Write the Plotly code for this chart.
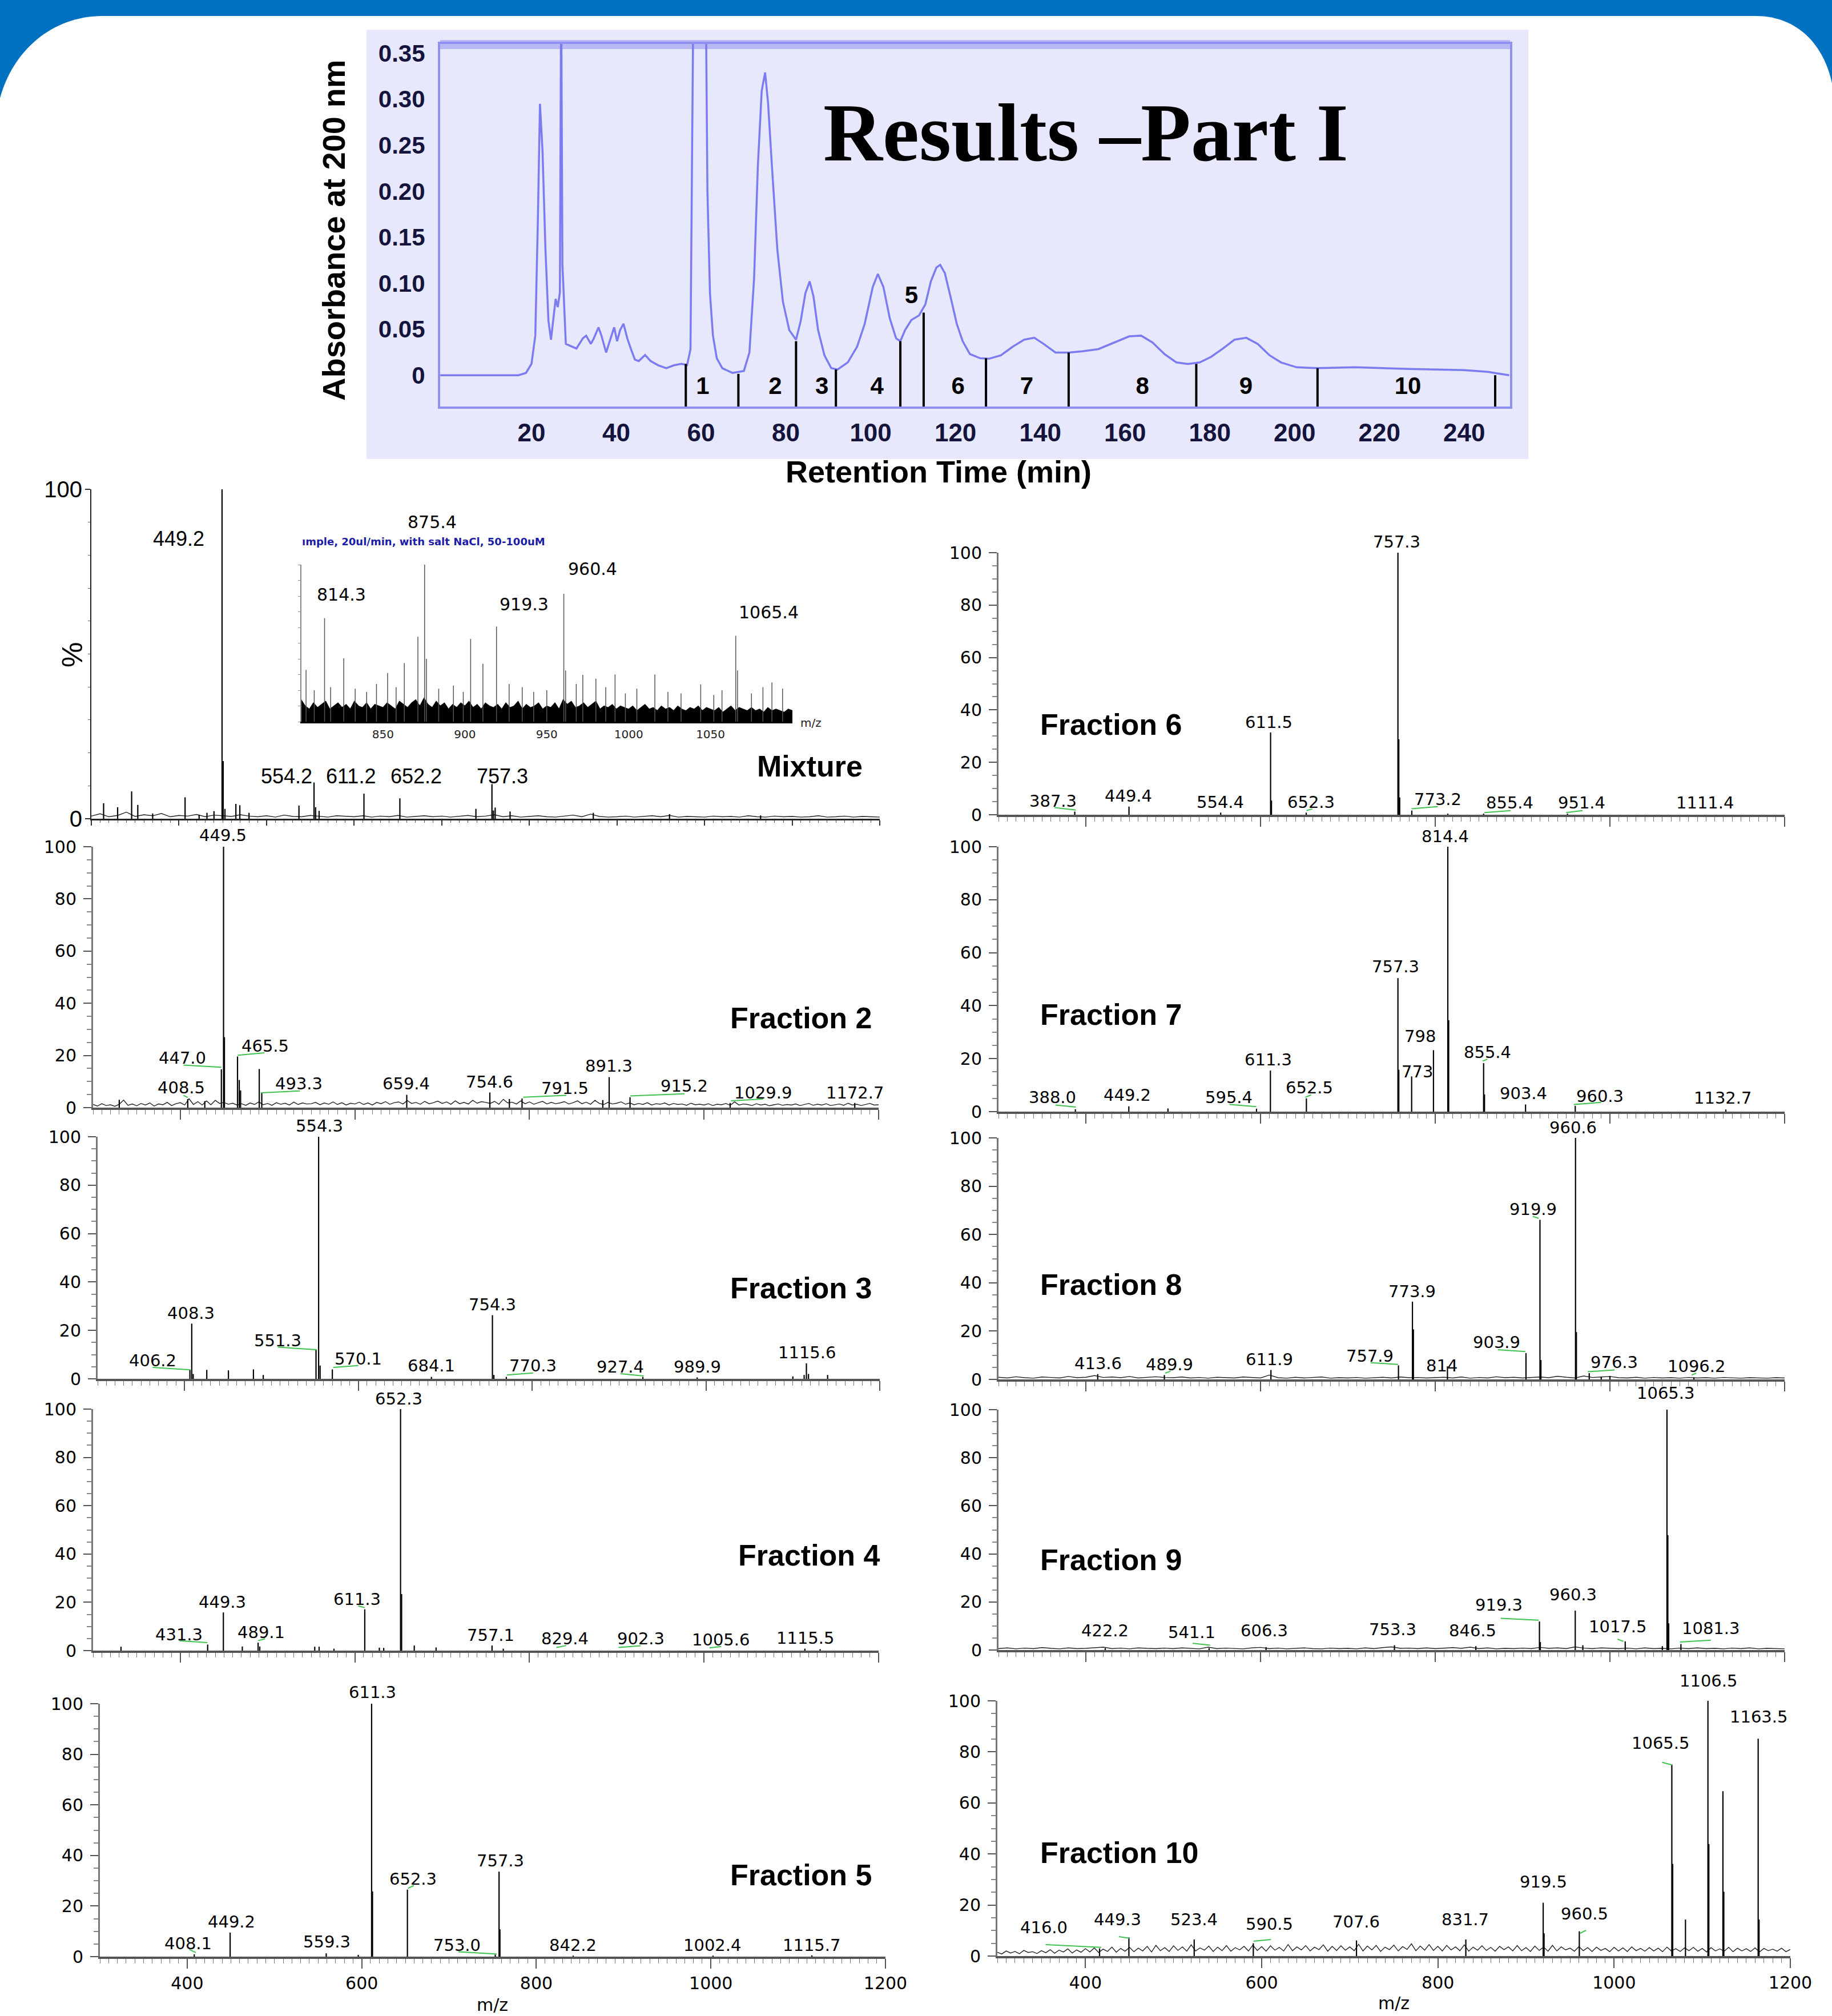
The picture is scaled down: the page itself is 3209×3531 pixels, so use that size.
import plotly.graph_objects as go

W, H = 3209, 3531

# ====================== DATA ======================
# --- HPLC chromatogram (retention time in min, absorbance at 200 nm) ---
chrom_time = [-1.5, 16.9, 18.7, 20.0, 20.9, 21.5, 22.0, 22.6, 23.3, 24.0, 24.6, 25.1, 25.7, 26.2, 26.7, 27.0,
              27.3, 28.1, 29.2, 30.6, 32.1, 32.9, 34.0, 34.7, 35.8, 36.5, 37.6, 38.5, 39.5, 40.2, 40.9, 41.7,
              42.6, 43.5, 44.4, 45.3, 46.8, 48.1, 49.9, 51.8, 53.6, 55.4, 56.7, 57.5, 57.8, 58.2, 61.1, 61.5,
              62.1, 62.8, 63.7, 65.0, 67.4, 70.1, 71.4, 72.5, 73.4, 74.3, 75.1, 75.8, 76.7, 78.0, 79.3, 80.8,
              82.4, 83.5, 84.6, 85.6, 86.5, 87.6, 89.1, 90.7, 92.2, 94.6, 96.8, 98.6, 100.5, 101.7, 103.0, 104.5,
              106.0, 107.0, 108.1, 109.6, 111.4, 112.9, 114.2, 115.5, 116.4, 117.5, 118.8, 120.3, 121.7, 123.4,
              125.8, 127.9, 130.7, 133.5, 136.2, 138.6, 140.8, 143.6, 146.7, 150.0, 153.7, 157.3, 161.0, 163.8,
              166.5, 169.3, 172.1, 174.8, 177.6, 180.3, 183.1, 185.8, 188.6, 191.3, 194.1, 196.8, 200.5, 205.5,
              214.3, 227.1, 240.0, 245.5, 248.3, 250.6]
chrom_abs = [0, 0, 0.0025, 0.0123, 0.043, 0.167, 0.295, 0.244, 0.136, 0.059, 0.0386, 0.059, 0.083, 0.074, 0.09, 0.42,
             0.12, 0.034, 0.032, 0.029, 0.040, 0.043, 0.034, 0.040, 0.052, 0.043, 0.0247, 0.037, 0.052, 0.037, 0.049, 0.056,
             0.040, 0.028, 0.017, 0.0154, 0.022, 0.0154, 0.0108, 0.0077, 0.0108, 0.0123, 0.011, 0.028, 0.2, 0.42, 0.42, 0.2,
             0.089, 0.043, 0.0185, 0.0077, 0.0025, 0.0046, 0.0247, 0.105, 0.228, 0.309, 0.329, 0.296, 0.228, 0.136, 0.080, 0.049,
             0.0386, 0.059, 0.089, 0.102, 0.086, 0.049, 0.0216, 0.0077, 0.0062, 0.0139, 0.031, 0.056, 0.096, 0.110, 0.096, 0.062,
             0.040, 0.037, 0.049, 0.060, 0.065, 0.077, 0.102, 0.117, 0.120, 0.111, 0.086, 0.056, 0.037, 0.023,
             0.0185, 0.0179, 0.0216, 0.031, 0.0386, 0.0407, 0.034, 0.0247, 0.0247, 0.026, 0.0284, 0.0355, 0.0423, 0.043,
             0.0355, 0.023, 0.0139, 0.0123, 0.0139, 0.020, 0.029, 0.0386, 0.0407, 0.034, 0.0216, 0.0139, 0.0086, 0.0077,
             0.0086, 0.0068, 0.0056, 0.0037, 0.0015, 0]
cut_time = [56.4, 68.8, 82.4, 91.8, 107.0, 112.5, 127.2, 146.7, 176.8, 205.4, 247.3]
cut_top = [0.0123, 0.0015, 0.037, 0.0062, 0.037, 0.068, 0.0185, 0.0247, 0.0123, 0.0077, 0.0]
frac_num_text = ['1', '2', '3', '4', '5', '6', '7', '8', '9', '10']
frac_num_time = [60.4, 77.5, 88.5, 101.5, 109.6, 120.6, 136.8, 164.1, 188.5, 226.7]
chrom_xtick_vals = [20, 40, 60, 80, 100, 120, 140, 160, 180, 200, 220, 240]
chrom_xtick_text = ['20', '40', '60', '80', '100', '120', '140', '160', '180', '200', '220', '240']
chrom_ytick_vals = [0, 0.05, 0.10, 0.15, 0.20, 0.25, 0.30, 0.35]
chrom_ytick_text = ['0', '0.05', '0.10', '0.15', '0.20', '0.25', '0.30', '0.35']

# --- Mixture spectrum ---
mix_mz = [314, 330, 346, 353, 370, 407, 423, 432, 440, 449.2, 450.5, 452.5, 465, 469.5, 480, 537, 554.2, 556, 560,
          611.2, 652.2, 739, 757.3, 759, 761, 778, 873, 960, 1064]
mix_h = [4.7, 3.5, 8.3, 4.2, 1.6, 6.5, 1.2, 1.8, 2.3, 100, 17.5, 3.0, 4.5, 4.1, 1.8, 4.0, 11.0, 3.5, 2.4,
         7.6, 6.2, 3.0, 10.5, 2.5, 3.4, 2.2, 1.8, 1.4, 1.0]
mix_noise = [0.8, 1.5, 0.6, 1.0, 2.0, 0.7, 1.2, 0.9, 1.6, 0.6,
             1.0, 0.8, 1.3, 0.6, 1.1, 0.9, 0.7, 1.2, 0.8, 0.6,
             0.9, 0.5, 1.1, 0.7, 0.6, 1.0, 0.8, 0.5, 0.9, 0.7,
             0.6, 0.9, 0.5, 0.8, 0.6, 1.0, 0.5, 0.7, 0.9, 0.6,
             0.8, 0.5, 0.7, 1.0, 0.6, 0.8, 1.2, 0.6, 0.9, 0.5,
             0.7, 0.9, 0.6, 0.5, 0.8, 1.1, 0.6, 1.4, 0.7, 0.5,
             0.6, 0.8, 0.5, 0.7, 0.9, 0.6, 1.0, 0.5, 0.7, 0.6,
             0.5, 0.8, 0.6, 0.7, 0.5, 0.9, 0.6, 0.5, 0.8, 0.6,
             0.7, 0.5, 0.6, 0.9, 0.5, 0.6, 0.8, 0.5, 0.7, 0.6, 0.5]
mix_labels = ['449.2', '554.2', '611.2', '652.2', '757.3']

# --- Mixture inset (800-1100) ---
inset_mz = [803, 808, 814.3, 818, 826, 833, 840, 846, 852.8, 858, 863, 871.3, 875.4, 876.5, 884, 893, 899, 903.5,
            911, 919.3, 927, 935, 942, 950, 960.4, 961.5, 968, 972, 980, 986, 991.7, 998, 1005, 1016, 1024, 1032,
            1044, 1052, 1057, 1065.4, 1066.5, 1075, 1082, 1087.5, 1094]
inset_h = [33, 20, 65.9, 22, 40.4, 21, 19, 24, 31, 22, 37.3, 54.1, 100, 40, 21, 23, 19, 52.7,
           36.9, 60.6, 24, 22, 19, 20, 81.5, 32.6, 24, 29.8, 27.4, 22, 30, 18, 21, 30, 19, 18,
           23.7, 17, 20, 54.7, 32.6, 18, 22, 25, 21]
inset_noise = [14, 10, 8, 12, 9, 11, 13, 8, 10, 12,
               9, 11, 8, 13, 10, 9, 12, 8, 11, 10,
               9, 12, 10, 8, 13, 11, 9, 12, 14, 10,
               15, 11, 9, 13, 10, 12, 8, 11, 9, 12,
               10, 13, 9, 11, 8, 12, 10, 9, 11, 8,
               12, 9, 10, 13, 8, 11, 9, 10, 12, 8,
               10, 9, 12, 8, 14, 11, 13, 9, 10, 12,
               9, 11, 13, 8, 10, 9, 11, 8, 10, 9,
               8, 10, 7, 9, 11, 8, 9, 7, 10, 8,
               9, 7, 10, 8, 7, 9, 8, 10, 7, 9,
               8, 7, 9, 6, 8, 10, 7, 9, 8, 7,
               9, 7, 8, 6, 9, 7, 8, 7, 6, 8, 7]
inset_labels = ['875.4', '814.3', '919.3', '960.4', '1065.4']
inset_xtick_vals = [850, 900, 950, 1000, 1050]
inset_xtick_text = ['850', '900', '950', '1000', '1050']
inset_caption = 'ımple, 20ul/min, with salt NaCl, 50-100uM'

# --- Fractions 2-10 ---
f2_mz = [330, 408.5, 428, 447.0, 449.5, 450.5, 465.5, 467.5, 469, 490.4, 493.3, 659.4, 754.6, 777, 791.5, 884, 891.3,
         915.2, 1029.9, 1172.7]
f2_h = [3.0, 3.3, 2.5, 14.7, 100, 27, 19.6, 10.6, 6.6, 14.8, 5.7, 4.9, 5.8, 3.3, 3.5, 2.9, 11.7, 4.0, 1.8, 1.8]
f2_labels = ['449.5', '447.0', '465.5', '408.5', '493.3', '659.4', '754.6', '791.5', '891.3', '915.2', '1029.9', '1172.7']
f2_noise = [1.2, 0.6, 1.5, 0.8, 1.1, 0.5, 1.3, 2.9, 0.9, 1.4,
            0.7, 1.6, 1.0, 1.8, 0.6, 1.4, 1.1, 2.0, 0.8, 1.5,
            1.9, 1.0, 3.4, 1.2, 2.3, 1.0, 2.6, 1.1, 2.8, 1.6,
            2.0, 1.3, 1.7, 1.0, 1.5, 0.9, 1.8, 1.2, 2.2, 1.1,
            1.6, 0.9, 1.9, 1.3, 1.7, 1.0, 2.1, 1.2, 1.8, 1.4,
            1.5, 2.0, 1.1, 1.8, 1.3, 2.2, 1.2, 1.9, 1.0, 1.7,
            1.4, 2.1, 1.2, 1.8, 1.0, 2.0, 1.5, 2.3, 1.3, 1.9,
            2.2, 1.4, 2.7, 1.6, 2.0, 1.3, 2.4, 1.5, 1.9, 2.5,
            1.6, 2.2, 1.3, 2.6, 1.5, 2.0, 1.4, 2.8, 1.7, 2.3,
            2.0, 1.6, 2.4, 1.3, 3.2, 1.8, 2.1, 1.4, 2.6, 1.5,
            2.2, 1.3, 1.9, 2.4, 1.4, 2.0, 1.5, 1.8, 2.3, 1.4,
            1.9, 2.6, 1.5, 2.1, 1.3, 2.8, 1.6, 1.2, 2.0, 1.4,
            1.7, 2.2, 1.3, 1.8, 1.1, 1.6, 1.2, 1.9, 1.0, 1.5,
            1.3, 1.8, 1.0, 1.6, 1.2, 1.4, 0.9, 1.7, 1.1, 1.3,
            1.0, 1.5, 0.8, 1.3, 1.1, 1.6, 0.9, 2.2, 1.0, 1.4,
            1.2, 0.8, 1.5, 1.0, 1.3, 0.7, 1.1, 1.4, 0.9, 1.2,
            1.0, 1.4, 0.8, 1.2, 1.6, 0.9, 1.3, 1.0, 1.5, 0.8,
            1.1, 1.4, 0.9, 1.7, 1.0, 1.3, 0.8, 1.2, 1.6, 1.0, 1.1]

f3_mz = [406.2, 408.3, 410, 425.6, 450.5, 479.3, 490.6, 551.3, 554.3, 556, 570.1, 684.1, 754.3, 756, 770.3, 927.4,
         989.9, 1100, 1113, 1115.6, 1118, 1140]
f3_h = [3.7, 22.8, 2.0, 3.7, 3.5, 3.9, 1.6, 12.0, 100, 5.5, 3.9, 0.8, 26.3, 1.6, 0.8, 0.8, 0.6, 1.0, 1.6, 6.4, 2.0, 1.6]
f3_labels = ['554.3', '408.3', '406.2', '551.3', '570.1', '684.1', '754.3', '770.3', '927.4', '989.9', '1115.6']

f4_mz = [332, 431.3, 449.3, 471, 489.1, 491, 554, 559, 576, 611.3, 628, 633, 652.3, 653.5, 668, 693, 757.1, 770,
         1115.5, 1133]
f4_h = [1.6, 2.5, 15.8, 1.7, 3.3, 1.7, 1.6, 1.6, 0.8, 17.1, 1.2, 1.1, 100, 23.4, 2.1, 1.3, 2.1, 0.8, 0.8, 0.6]
f4_labels = ['652.3', '449.3', '611.3', '431.3', '489.1', '757.1', '829.4', '902.3', '1005.6', '1115.5']

f5_mz = [408.1, 449.2, 559.3, 596, 611.3, 612.3, 652.3, 753.0, 757.3, 758.3, 842.2, 1002.4, 1115.7]
f5_h = [0.9, 9.5, 1.3, 0.7, 100, 25.8, 26.5, 0.8, 33.6, 10.8, 0.4, 0.4, 0.5]
f5_labels = ['611.3', '449.2', '408.1', '559.3', '652.3', '757.3', '753.0', '842.2', '1002.4', '1115.7']

f6_mz = [387.3, 449.4, 554.4, 611.5, 612.5, 652.3, 757.3, 758.3, 759.3, 773.2, 814.4, 855.4, 951.4]
f6_h = [1.2, 3.1, 0.8, 31.4, 5.4, 0.8, 100, 28.8, 6.6, 1.6, 0.4, 0.4, 0.4]
f6_labels = ['757.3', '611.5', '387.3', '449.4', '554.4', '652.3', '773.2', '855.4', '951.4', '1111.4']

f7_mz = [388.0, 449.2, 494, 595.4, 611.3, 652.5, 757.3, 758.3, 773, 798, 814.4, 815.4, 855.4, 856.4, 903.4, 960.3,
         1132.7]
f7_h = [0.9, 2.0, 1.2, 1.1, 15.5, 5.0, 50.4, 15.8, 13.3, 23.2, 100, 34.5, 18.3, 6.5, 2.7, 2.2, 0.8]
f7_labels = ['814.4', '757.3', '798', '773', '855.4', '611.3', '652.5', '388.0', '449.2', '595.4', '903.4', '960.3',
             '1132.7']

f8_mz = [413.6, 489.9, 611.9, 757.9, 773.9, 775, 814, 903.9, 919.9, 921, 960.6, 961.6, 976.3, 990, 1000, 1096.2]
f8_h = [2.2, 1.8, 3.9, 5.8, 32.2, 20.7, 5.4, 10.9, 66.1, 8.0, 100, 19.6, 2.6, 1.0, 1.4, 0.8]
f8_labels = ['960.6', '919.9', '773.9', '757.9', '814', '903.9', '976.3', '611.9', '413.6', '489.9', '1096.2']
f8_noise = [0.9, 0.6, 1.1, 0.7, 0.5, 1.0, 0.8, 0.6, 1.2, 0.7,
            0.9, 1.6, 0.8, 1.0, 0.7, 1.2, 0.6, 0.9, 1.1, 0.8,
            0.7, 1.0, 0.6, 0.8, 0.5, 0.9, 0.7, 0.6, 1.0, 0.8,
            0.6, 1.8, 0.7, 0.5, 0.9, 0.6, 0.8, 1.0, 0.5, 0.7,
            0.6, 0.8, 0.5, 0.7, 0.9, 0.6, 1.0, 0.7, 0.8, 0.6,
            0.7, 0.9, 0.6, 1.0, 0.5, 0.8, 0.6, 1.1, 0.7, 0.9,
            0.6, 0.8, 1.0, 0.7, 1.3, 0.9, 0.6, 1.4, 0.8, 1.0,
            1.2, 0.7, 0.6, 0.9, 0.5, 0.8, 0.6, 0.7, 0.5, 0.8,
            0.6, 0.7, 0.5, 0.8, 0.6, 0.5, 0.7, 0.6, 0.5, 0.7, 0.6]

f9_mz = [422.2, 541.1, 606.3, 753.3, 846.5, 919.3, 920.3, 960.3, 969, 1017.5, 1060, 1065.3, 1066.3, 1067.3, 1081.3]
f9_h = [0.8, 0.8, 1.2, 2.0, 1.6, 11.9, 3.3, 16.4, 2.0, 3.6, 1.6, 100, 47.8, 11.1, 2.5]
f9_labels = ['1065.3', '960.3', '919.3', '1017.5', '1081.3', '846.5', '753.3', '606.3', '541.1', '422.2']
f9_noise = [0.6, 0.9, 0.5, 0.8, 0.6, 1.0, 0.7, 0.5, 0.9, 0.6,
            0.7, 1.0, 1.2, 0.6, 0.8, 0.5, 0.9, 0.7, 0.6, 0.8,
            0.6, 0.9, 0.7, 0.5, 1.2, 0.6, 0.8, 0.7, 0.5, 0.9,
            1.1, 0.6, 0.8, 0.5, 0.7, 0.9, 0.6, 0.5, 0.8, 0.6,
            0.7, 0.5, 0.9, 0.6, 1.0, 1.3, 0.7, 0.8, 0.6, 0.9,
            0.6, 0.8, 1.0, 0.7, 1.2, 0.6, 0.9, 0.5, 0.7, 0.6,
            0.8, 0.6, 1.1, 0.7, 0.9, 0.6, 1.3, 0.8, 0.6, 0.9,
            0.7, 0.6, 0.8, 0.5, 0.9, 0.6, 0.7, 0.5, 0.8, 0.6,
            0.9, 0.6, 0.7, 0.5, 0.8, 0.6, 0.9, 0.5, 0.7, 0.6, 0.5]

f10_mz = [416.0, 449.3, 523.4, 590.5, 707.6, 831.7, 919.5, 920.5, 960.5, 1065.5, 1066.5, 1081, 1106.5, 1107.5, 1123.5,
          1124.5, 1163.5, 1164.5]
f10_h = [3.0, 7.3, 6.5, 5.0, 6.1, 6.5, 20.9, 8.9, 9.7, 75.1, 36.1, 14.3, 100, 43.9, 64.6, 25.2, 85.2, 14.3]
f10_labels = ['1106.5', '1163.5', '1065.5', '919.5', '960.5', '831.7', '707.6', '590.5', '523.4', '449.3', '416.0']
f10_noise = [1.5, 0.8, 2.0, 1.2, 1.8, 0.9, 2.2, 1.4, 1.7, 1.0,
             2.1, 1.3, 2.5, 1.1, 2.3, 1.6, 2.8, 1.2, 2.4, 1.5,
             2.9, 1.6, 3.2, 1.4, 2.7, 1.8, 3.5, 1.5, 3.0, 1.9,
             3.4, 1.7, 3.1, 2.0, 3.8, 1.6, 4.2, 2.1, 3.3, 1.8,
             4.0, 2.2, 3.6, 1.9, 4.4, 2.0, 3.2, 2.3, 3.9, 1.8,
             3.5, 2.1, 4.1, 1.9, 3.3, 2.4, 3.8, 2.0, 4.3, 2.2,
             3.7, 1.9, 4.0, 2.3, 3.4, 2.0, 4.5, 2.1, 3.6, 2.4,
             4.1, 2.0, 3.5, 2.5, 4.4, 1.9, 3.8, 2.2, 4.0, 2.3,
             3.6, 2.1, 4.6, 2.0, 3.9, 2.4, 4.2, 1.8, 3.5, 2.5,
             4.3, 2.0, 3.7, 2.6, 4.8, 2.1, 3.9, 2.3, 4.5, 2.2,
             3.8, 2.0, 4.2, 2.4, 3.6, 2.1, 4.4, 1.9, 3.5, 2.3,
             4.0, 2.2, 3.4, 1.9, 3.8, 2.5, 3.6, 2.0, 4.1, 2.1,
             3.3, 1.8, 3.9, 2.2, 3.5, 1.9, 4.2, 2.0, 3.6, 2.4,
             3.1, 1.9, 3.7, 2.1, 3.3, 1.8, 3.5, 2.2, 3.0, 1.7,
             3.4, 2.0, 3.2, 1.8, 3.6, 2.1, 3.0, 1.9, 3.3, 2.0,
             3.1, 1.7, 3.5, 2.0, 2.9, 1.8, 3.2, 2.1, 3.4, 1.9,
             3.0, 1.6, 3.3, 2.0, 2.8, 1.9, 3.4, 1.7, 3.1, 2.0,
             2.9, 1.8, 3.2, 1.6, 3.0, 2.1, 2.7, 1.9, 3.1, 1.7, 2.6]

fraction_names = ['Mixture', 'Fraction 2', 'Fraction 3', 'Fraction 4', 'Fraction 5', 'Fraction 6', 'Fraction 7',
                  'Fraction 8', 'Fraction 9', 'Fraction 10']
spec_ytick_text = ['0', '20', '40', '60', '80', '100']

# ====================== LAYOUT / STYLE ======================
SANS = "Liberation Sans, Arial, Helvetica, sans-serif"
DV = "DejaVu Sans, Verdana, sans-serif"
SERIF = "Liberation Serif, Times New Roman, serif"


def px(x):
    return x / W


def py(y):
    return 1 - y / H


def dom_x(l, r):
    return [px(l), px(r)]


def dom_y(top, bot):
    return [py(bot), py(top)]


fig = go.Figure()
layout = dict(template='none', width=W, height=H, margin=dict(l=0, r=0, t=0, b=0, pad=0), paper_bgcolor='white',
              plot_bgcolor='rgba(0,0,0,0)', showlegend=False, autosize=False)
shapes = []
annotations = []

# ---- background banner ----
shapes.append(dict(type='rect', xref='paper', yref='paper', x0=0, x1=1, y0=py(260), y1=1,
                   fillcolor='#0070C0', line=dict(width=0), layer='below'))
path = (f"M {px(0)},{py(172)} C {px(22)},{py(90)} {px(90)},{py(28)} {px(180)},{py(28)} "
        f"L {px(3075)},{py(28)} C {px(3150)},{py(28)} {px(3195)},{py(80)} {px(3209)},{py(146)} "
        f"L {px(3209)},{py(300)} L {px(0)},{py(300)} Z")
shapes.append(dict(type='path', xref='paper', yref='paper', path=path, fillcolor='white',
                   line=dict(width=0), layer='below'))
# chromatogram panel background
shapes.append(dict(type='rect', xref='paper', yref='paper', x0=px(642), x1=px(2677), y0=py(804), y1=py(52),
                   fillcolor='#e8e8fc', line=dict(width=0), layer='below'))
# thick top frame of chromatogram
shapes.append(dict(type='rect', xref='paper', yref='paper', x0=px(771), x1=px(2645), y0=py(86), y1=py(70),
                   fillcolor='#b9b9f6', line=dict(width=0), layer='below'))

# ---- chromatogram ----
CHR_L, CHR_R, CHR_T, CHR_B = 771, 2645, 77, 712
layout['xaxis'] = dict(domain=dom_x(CHR_L, CHR_R), range=[-1.54, 250.8], anchor='y', showline=True, mirror=True,
                       linecolor='#9090f0', linewidth=4, ticks='', tickmode='array', tickvals=chrom_xtick_vals,
                       ticktext=chrom_xtick_text, showgrid=False, zeroline=False, ticklabelstandoff=4,
                       automargin=False,
                       tickfont=dict(family=SANS, size=44, color='#14143c', weight='bold'))
layout['yaxis'] = dict(domain=dom_y(CHR_T, CHR_B), range=[-0.034, 0.36], anchor='x', showline=True, mirror=True,
                       linecolor='#9090f0', linewidth=4, ticks='', tickmode='array', tickvals=chrom_ytick_vals,
                       ticktext=chrom_ytick_text, showgrid=False, zeroline=False, ticklabelstandoff=14,
                       automargin=False,
                       tickfont=dict(family=SANS, size=42, color='#14143c', weight='bold'))
fig.add_trace(go.Scatter(x=chrom_time, y=chrom_abs, mode='lines', line=dict(color='#7c7cf2', width=3.5),
                         xaxis='x', yaxis='y'))
cx, cy = [], []
for t, top in zip(cut_time, cut_top):
    cx += [t, t, None]
    cy += [-0.034, top, None]
fig.add_trace(go.Scatter(x=cx, y=cy, mode='lines', line=dict(color='black', width=4), xaxis='x', yaxis='y'))
num_y = [-0.0139 if s != '5' else 0.085 for s in frac_num_text]
fig.add_trace(go.Scatter(x=frac_num_time, y=num_y, mode='text', text=frac_num_text, textposition='middle center',
                         textfont=dict(family=SANS, size=42, color='black', weight='bold'),
                         xaxis='x', yaxis='y', cliponaxis=False))


def ann(text, x, y, size, family=SANS, bold=False, angle=0, xanchor='center', color='black'):
    annotations.append(dict(text=text, x=px(x), y=py(y), xref='paper', yref='paper', showarrow=False,
                            xanchor=xanchor, yanchor='middle', textangle=angle,
                            font=dict(family=family, size=size, color=color,
                                      weight='bold' if bold else 'normal')))


ann('Results –Part I', 1902, 232, 144, family=SERIF, bold=True)
ann('Absorbance at 200 nm', 585, 403, 56, bold=True, angle=-90)
ann('Retention Time (min)', 1644, 826, 54, bold=True)


# ---- spectra helpers ----
def sticks(mz, h):
    xs, ys = [], []
    for m, v in zip(mz, h):
        xs += [m, m, None]
        ys += [0, v, None]
    return xs, ys


def add_spectrum(n, mz, h, noise, noise_step):
    if noise is not None:
        nx = [300 + noise_step * i for i in range(len(noise))]
        fig.add_trace(go.Scatter(x=nx, y=noise, mode='lines', line=dict(color='#222', width=1.4),
                                 xaxis=f'x{n}', yaxis=f'y{n}'))
    xs, ys = sticks(mz, h)
    fig.add_trace(go.Scatter(x=xs, y=ys, mode='lines', line=dict(color='black', width=2.2),
                             xaxis=f'x{n}', yaxis=f'y{n}'))


def add_labels(n, labels, lx, ly, half_units, font):
    # y given in % of the 0-100 axis; placed via the axis domain so labels above 100 stay visible
    for txt, x, y in zip(labels, lx, ly):
        annotations.append(dict(text=txt, x=x, y=(y + half_units) / 100.0, xref=f'x{n}', yref=f'y{n} domain',
                                showarrow=False, xanchor='center', yanchor='middle', font=font))


def add_leaders(n, segs):
    xs, ys = [], []
    for x0, y0, x1, y1 in segs:
        xs += [x0, x1, None]
        ys += [y0, y1, None]
    fig.add_trace(go.Scatter(x=xs, y=ys, mode='lines', line=dict(color='#3fc24f', width=2),
                             xaxis=f'x{n}', yaxis=f'y{n}', cliponaxis=False))


major_x = list(range(300, 1201, 50))
minor_x = list(range(300, 1201, 10))
label_map = {400: '400', 600: '600', 800: '800', 1000: '1000', 1200: '1200'}

# ---- Mixture panel ----
n, l, r, t, b = 2, 160, 1541, 857, 1434
layout['xaxis2'] = dict(domain=dom_x(l, r), range=[300, 1200], anchor='y2', showline=True, linecolor='#222',
                        linewidth=3, ticks='outside', tickmode='array', tickvals=list(range(300, 1201, 100)),
                        ticklen=9, tickwidth=1.5, tickcolor='#333', showticklabels=False, automargin=False,
                        minor=dict(tickmode='array', tickvals=minor_x, ticks='outside', ticklen=4, tickwidth=1,
                                   tickcolor='#555'),
                        showgrid=False, zeroline=False)
layout['yaxis2'] = dict(domain=dom_y(t, b), range=[0, 100], anchor='x2', showline=True, linecolor='#222',
                        linewidth=2, ticks='outside', tickmode='array', tickvals=[0, 100], ticktext=['0', '100'],
                        ticklen=9, tickwidth=1.5, tickcolor='#333', automargin=False,
                        minor=dict(tickmode='array', tickvals=list(range(0, 101, 10)), ticks='outside', ticklen=4,
                                   tickwidth=1, tickcolor='#666'),
                        showgrid=False, zeroline=False, ticklabelstandoff=-3,
                        tickfont=dict(family=SANS, size=40, color='black'))
mix_noise_x = [300 + 10 * i for i in range(len(mix_noise))]
fig.add_trace(go.Scatter(x=mix_noise_x, y=mix_noise, mode='lines', line=dict(color='#222', width=1.4),
                         xaxis='x2', yaxis='y2'))
xs, ys = sticks(mix_mz, mix_h)
fig.add_trace(go.Scatter(x=xs, y=ys, mode='lines', line=dict(color='black', width=2.2), xaxis='x2', yaxis='y2'))
add_labels(2, mix_labels, [399.7, 522.8, 596.5, 670.7, 769.4], [82.7, 10.6, 10.6, 10.6, 10.6],
           13 / ((b - t) / 100), dict(family=SANS, size=36, color='black'))
ann('%', 127, 1147, 50, angle=-90)
ann(fraction_names[0], 1418, 1342, 52, bold=True)

# ---- Mixture inset ----
IL, IR, IT, IB = 527.5, 1388, 989, 1264
layout['xaxis3'] = dict(domain=dom_x(IL, IR), range=[800, 1100], anchor='y3', showline=True, linecolor='black',
                        linewidth=3, ticks='', tickmode='array', tickvals=inset_xtick_vals, ticktext=inset_xtick_text,
                        showgrid=False, zeroline=False, ticklabelstandoff=2, automargin=False,
                        tickfont=dict(family=DV, size=20, color='#222'))
layout['yaxis3'] = dict(domain=dom_y(IT, IB), range=[0, 100], anchor='x3', showline=True, linecolor='#888',
                        linewidth=2, ticks='', showticklabels=False, automargin=False,
                        minor=dict(tickmode='array', tickvals=list(range(0, 101, 10)), ticks='outside', ticklen=4,
                                   tickwidth=1, tickcolor='#888'),
                        showgrid=False, zeroline=False)
inset_noise_mz = [800 + 2.5 * i for i in range(len(inset_noise))]
fig.add_trace(go.Scatter(x=inset_noise_mz, y=inset_noise, mode='lines', fill='tozeroy', fillcolor='black',
                         line=dict(color='black', width=1.2), xaxis='x3', yaxis='y3'))
xs, ys = sticks(inset_mz, inset_h)
fig.add_trace(go.Scatter(x=xs, y=ys, mode='lines', line=dict(color='#555', width=1.5), xaxis='x3', yaxis='y3'))
ann(inset_caption, 527, 948, 18, family=DV, bold=True, xanchor='left', color='#1c1ca6')
add_labels(3, inset_labels, [880, 824.6, 936.3, 977.9, 1085.7], [123.0, 76.8, 70.6, 93.2, 65.8],
           11 / ((IB - IT) / 100), dict(family=DV, size=30, color='black'))
ann('m/z', 1400, 1266, 20, family=DV, xanchor='left', color='#222')

# ---- Fraction panels ----
panels = [
    # n, left, right, top(100), bottom(0), mz, h, noise, step, labels, label_x, label_y, leaders, xlabels
    (4, 163, 1539, 1483, 1940, f2_mz, f2_h, f2_noise, 5, f2_labels,
     [449.0, 402.3, 497.1, 401, 535.8, 658.5, 754, 840.7, 890.8, 977.6, 1067.6, 1173],
     [102.2, 16.8, 21.5, 5.5, 6.9, 6.9, 7.7, 5.3, 13.7, 6.1, 3.6, 3.6],
     [(403.7, 16.3, 447.0, 15.5), (465.7, 20.1, 496.4, 21.0), (403.7, 4.7, 408.3, 3.9), (492.4, 5.7, 537.1, 6.4),
      (792.9, 4.0, 842.3, 4.7), (915.6, 4.5, 977.6, 5.3), (1030.9, 2.6, 1067.6, 3.3)], False),
    (5, 171, 1541, 1991, 2415, f3_mz, f3_h, None, 10, f3_labels,
     [555, 407.5, 363.3, 507.4, 600, 683.8, 754.2, 801.1, 901.6, 990.1, 1116],
     [102.1, 24.7, 5.1, 13.5, 5.9, 3.1, 28.3, 3.0, 2.7, 2.7, 8.6],
     [(363.3, 4.7, 406.9, 3.7), (507.4, 13.1, 552.3, 12.0), (571.1, 4.7, 600, 5.5), (770.9, 1.6, 801.1, 2.4),
      (901.6, 2.1, 928.4, 1.2)], False),
    (6, 163, 1539, 2468, 2891, f4_mz, f4_h, None, 10, f4_labels,
     [650.5, 448.0, 602.5, 398.3, 492.4, 755.3, 840.7, 927.5, 1018.9, 1115.7],
     [102, 17.7, 18.9, 4.3, 5.3, 4.1, 2.5, 2.5, 2.1, 2.9],
     [(398.9, 4.1, 431, 3.3), (489.1, 4.1, 497.1, 4.9), (603.8, 18.5, 611.2, 17.8), (830.8, 1.3, 842.1, 2.1),
      (902.1, 1.3, 927.5, 2.0), (1006.3, 1.1, 1019.6, 1.7)], False),
    (7, 175, 1551, 2984, 3427, f5_mz, f5_h, None, 10, f5_labels,
     [612.3, 450.6, 401.3, 559.7, 658.9, 758.8, 708.9, 842, 1001.8, 1115.5],
     [102.2, 11.4, 3.0, 3.5, 28.4, 35.6, 2.3, 2.3, 2.3, 2.3],
     [(402.6, 2.8, 409.9, 1.6), (652.9, 27.0, 659.6, 28.1), (710.8, 1.9, 754.7, 1.0)], True),
    (8, 1749, 3126, 968, 1427, f6_mz, f6_h, None, 10, f6_labels,
     [756.1, 609.8, 362.6, 448.8, 553.7, 657.9, 802.9, 885, 967.9, 1108.9],
     [101.9, 33.1, 3.1, 5.1, 2.7, 2.7, 3.7, 2.3, 2.3, 2.3],
     [(363.9, 2.7, 388.6, 1.8), (652.6, 1.6, 659.3, 2.2), (772.9, 2.3, 802.9, 3.1), (856.3, 0.8, 886.4, 1.6),
      (949.9, 0.8, 968.6, 1.6)], False),
    (9, 1749, 3126, 1483, 1947, f7_mz, f7_h, None, 10, f7_labels,
     [811.6, 754.7, 782.8, 779.5, 859.6, 609.1, 656.2, 362, 447.5, 563.7, 901.1, 988.6, 1128.9],
     [101.8, 52.5, 26.3, 12.9, 20.3, 17.4, 6.8, 3.2, 4.0, 3.2, 4.7, 3.7, 3.0],
     [(365.3, 2.5, 388.6, 1.7), (564.4, 2.7, 595.1, 1.9), (651.2, 5.4, 657.9, 6.3), (854.4, 19.1, 859.7, 19.8),
      (958.6, 2.7, 990, 3.5)], False),
    (10, 1749, 3126, 1993, 2416, f8_mz, f8_h, f8_noise, 10, f8_labels,
     [957.9, 911.8, 773.5, 725.4, 807.5, 870.3, 1004.6, 610.4, 414.1, 495.6, 1098.8],
     [102, 68.1, 34.1, 7.3, 3.4, 12.9, 4.7, 5.8, 4.2, 3.9, 3.0],
     [(490.9, 2.6, 497, 3.4), (726, 6.9, 757.5, 6.2), (871.7, 12.3, 903.1, 11.5), (911.8, 67.5, 918.5, 66.7),
      (974.6, 3.2, 1005.3, 3.9), (1093.5, 1.8, 1098.8, 2.6)], False),
    (11, 1749, 3126, 2469, 2890, f9_mz, f9_h, f9_noise, 10, f9_labels,
     [1063.4, 957.9, 873, 1008.7, 1115.5, 843, 751.4, 604.4, 521, 422.1],
     [104.5, 20.7, 16.4, 7.4, 6.6, 5.8, 6.1, 5.8, 5.0, 5.8],
     [(875.1, 13.2, 918.5, 12.4), (522.3, 2.8, 542.3, 2.0), (1008.7, 4.5, 1015.4, 3.6), (1080.1, 3.3, 1115.6, 4.1)],
     False),
    (12, 1747, 3136, 2979, 3426, f10_mz, f10_h, f10_noise, 5, f10_labels,
     [1107, 1164, 1052.5, 919.6, 966.2, 831.3, 707, 608.7, 522.9, 436.5, 352.8],
     [105.5, 91.4, 81.3, 26.8, 14.3, 12.0, 11.2, 10.4, 12.0, 12.0, 8.9],
     [(354.8, 4.5, 417.9, 3.4), (437.9, 7.6, 449.8, 7.0), (590.7, 5.8, 610.6, 6.5), (961.5, 8.9, 968.1, 10.1),
      (1054.5, 75.9, 1065.8, 74.9)], True),
]

TICKFONT = dict(family=DV, size=30, color='black')
LABFONT = dict(family=DV, size=29, color='black')
for (n, l, r, t, b, mz, h, noise, step, labels, lx, ly, leaders, xlab) in panels:
    layout[f'xaxis{n}'] = dict(
        domain=dom_x(l, r), range=[300, 1200], anchor=f'y{n}', showline=True, linecolor='#555',
        linewidth=4, ticks='outside', tickmode='array', tickvals=major_x,
        ticktext=[label_map.get(v, '') for v in major_x], ticklen=17, tickwidth=1.8, tickcolor='#555',
        minor=dict(tickmode='array', tickvals=minor_x, ticks='outside', ticklen=8, tickwidth=1.2, tickcolor='#777'),
        showgrid=False, zeroline=False, showticklabels=xlab, ticklabelstandoff=0, tickfont=TICKFONT,
        automargin=False)
    layout[f'yaxis{n}'] = dict(
        domain=dom_y(t, b), range=[0, 100], anchor=f'x{n}', showline=True, linecolor='#777', linewidth=3,
        ticks='outside', tickmode='array', tickvals=[0, 20, 40, 60, 80, 100], ticktext=spec_ytick_text,
        ticklen=14, tickwidth=2, tickcolor='#555',
        minor=dict(tickmode='array', tickvals=list(range(0, 101, 5)), ticks='outside', ticklen=8, tickwidth=1.5,
                   tickcolor='#888'),
        showgrid=False, zeroline=False, ticklabelstandoff=6, tickfont=TICKFONT, automargin=False)
    add_spectrum(n, mz, h, noise, step)
    add_leaders(n, leaders)
    add_labels(n, labels, lx, ly, 10 / ((b - t) / 100), LABFONT)

# fraction names
ann(fraction_names[1], 1403, 1783, 52, bold=True)
ann(fraction_names[2], 1403, 2256, 52, bold=True)
ann(fraction_names[3], 1417, 2724, 52, bold=True)
ann(fraction_names[4], 1403, 3284, 52, bold=True)
ann(fraction_names[5], 1820, 1269, 52, bold=True, xanchor='left')
ann(fraction_names[6], 1820, 1777, 52, bold=True, xanchor='left')
ann(fraction_names[7], 1820, 2250, 52, bold=True, xanchor='left')
ann(fraction_names[8], 1820, 2732, 52, bold=True, xanchor='left')
ann(fraction_names[9], 1820, 3245, 52, bold=True, xanchor='left')
ann('m/z', 862, 3511, 30, family=DV)
ann('m/z', 2441, 3508, 30, family=DV)

layout['shapes'] = shapes
layout['annotations'] = annotations
fig.update_layout(**layout)
fig.write_html("out.html", config={'displayModeBar': False},
               post_script="document.body.style.margin='0px';")
